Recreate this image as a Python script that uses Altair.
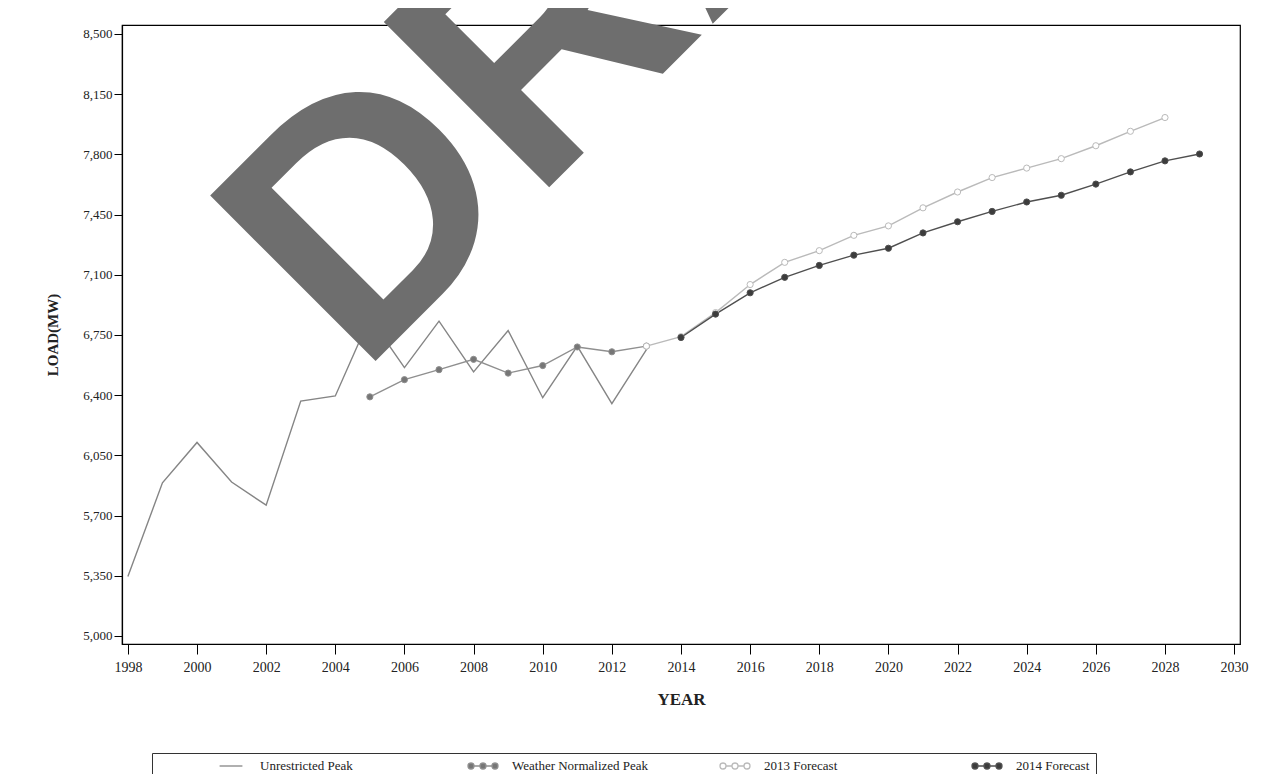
import altair as alt
import pandas as pd

# ---- data ----
years_unrestricted = list(range(1998, 2014))
unrestricted_peak = [5345, 5890, 6125, 5895, 5760, 6365, 6395, 6850,
                     6560, 6830, 6535, 6775, 6385, 6685, 6350, 6665]

years_weather = list(range(2005, 2014))
weather_normalized_peak = [6390, 6490, 6548, 6608, 6528, 6572, 6680, 6652, 6685]

years_f2013 = list(range(2013, 2029))
forecast_2013 = [6685, 6740, 6880, 7043, 7172, 7240, 7329, 7384,
                 7489, 7581, 7665, 7720, 7775, 7850, 7934, 8014]

years_f2014 = list(range(2014, 2030))
forecast_2014 = [6735, 6871, 6995, 7085, 7154, 7214, 7254, 7343,
                 7408, 7468, 7523, 7562, 7627, 7698, 7762, 7802]

series_names = ["Unrestricted Peak", "Weather Normalized Peak", "2013 Forecast", "2014 Forecast"]
y_ticks = [5000, 5350, 5700, 6050, 6400, 6750, 7100, 7450, 7800, 8150, 8500]
x_ticks = list(range(1998, 2031, 2))
watermark_text = ["DRAFT"]
watermark_year = [2004.7]
watermark_load = [6505]

# ---- tables ----
rows = []
for yrs, vals, name in [
    (years_unrestricted, unrestricted_peak, series_names[0]),
    (years_weather, weather_normalized_peak, series_names[1]),
    (years_f2013, forecast_2013, series_names[2]),
    (years_f2014, forecast_2014, series_names[3]),
]:
    for yr, v in zip(yrs, vals):
        rows.append({"year": yr, "load": v, "series": name})
df = pd.DataFrame(rows)
df_points = df[df["series"] != series_names[0]]
wm = pd.DataFrame({"year": watermark_year, "load": watermark_load, "text": watermark_text})


def dot(cx, r=0.5):
    return (f"M{cx - r:.3f},0A{r},{r} 0 1,0 {cx + r:.3f},0"
            f"A{r},{r} 0 1,0 {cx - r:.3f},0Z")


# legend symbols (size 144 -> 6 px per path unit)
line_path = "M-1.9,0L1.9,0"
dots_path = "M-1.5,0L-0.5,0M0.5,0L1.5,0" + dot(-2.0) + dot(0) + dot(2.0)

legend = alt.Legend(
    title=None, orient="none", legendX=30, legendY=728,
    direction="horizontal", columns=4, gridAlign="all", columnPadding=13,
    padding=6, strokeColor="#333333",
    labelFont="Liberation Serif", labelFontSize=13, labelColor="#222222",
    symbolSize=144, symbolStrokeWidth=1.3, symbolOffset=66, labelOffset=22,
)

stroke_scale = alt.Scale(domain=series_names,
                         range=["#858585", "#8f8f8f", "#bababa", "#4f4f4f"])
fill_scale = alt.Scale(domain=series_names,
                       range=["#858585", "#767676", "#ffffff", "#3c3c3c"])
shape_scale = alt.Scale(domain=series_names,
                        range=[line_path, dots_path, dots_path, dots_path])

x_enc = alt.X("year:Q",
              scale=alt.Scale(domain=[1997.83, 2030.17], nice=False, zero=False),
              axis=alt.Axis(values=x_ticks, format="d", title="YEAR",
                            tickSize=10, labelPadding=6, labelFontSize=14,
                            titleFontSize=17, titleFontWeight="bold",
                            titlePadding=17, labelFlush=False))
y_enc = alt.Y("load:Q",
              scale=alt.Scale(domain=[4953, 8552], nice=False, zero=False),
              axis=alt.Axis(values=y_ticks, format=",d", title="LOAD(MW)",
                            tickSize=8, labelPadding=2, labelFontSize=13,
                            titleFontSize=15, titleFontWeight="bold",
                            titlePadding=22))

base = alt.Chart(df)

lines = base.mark_line(strokeWidth=1.4).encode(
    x=x_enc, y=y_enc,
    stroke=alt.Stroke("series:N", scale=stroke_scale, legend=legend),
    detail="series:N",
)

points = alt.Chart(df_points).mark_point(filled=True, size=38, strokeWidth=1, opacity=1).encode(
    x=x_enc, y=y_enc,
    fill=alt.Fill("series:N", scale=fill_scale, legend=legend),
    stroke=alt.Stroke("series:N", scale=stroke_scale, legend=legend),
)

legend_layer = alt.Chart(df).transform_filter("false").mark_point(filled=True, opacity=1).encode(
    x=x_enc, y=y_enc,
    fill=alt.Fill("series:N", scale=fill_scale, legend=legend),
    stroke=alt.Stroke("series:N", scale=stroke_scale, legend=legend),
    shape=alt.Shape("series:N", scale=shape_scale, legend=legend),
)

watermark = alt.Chart(wm).mark_text(
    angle=315, align="left", baseline="alphabetic", fontSize=340,
    font="Liberation Sans", fontWeight="bold", color="#6e6e6e",
).encode(x=alt.X("year:Q"), y=alt.Y("load:Q"), text="text:N")

chart = alt.layer(lines, points, legend_layer, watermark).properties(
    width=1118, height=619,
    autosize=alt.AutoSizeParams(type="none"),
    padding={"left": 114, "top": 17, "right": 10, "bottom": 130},
    background="white",
).configure_axis(
    domainColor="black", tickColor="black", domainWidth=1.2, tickWidth=1,
    labelFont="Liberation Serif", titleFont="Liberation Serif",
    labelColor="#222222", titleColor="#222222", grid=False,
).configure_view(stroke="black", strokeWidth=1.2)

chart.save("out.html", embed_options={"renderer": "svg", "actions": False})
